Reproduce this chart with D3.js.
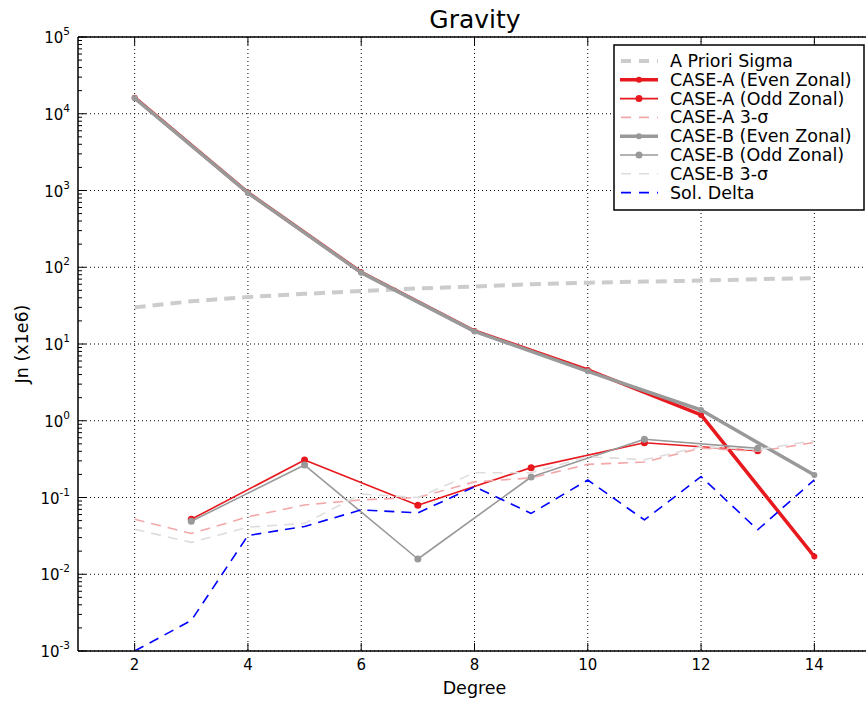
<!DOCTYPE html>
<html><head><meta charset="utf-8">
<script src="https://cdn.jsdelivr.net/npm/d3@7"></script>
<style>body{margin:0;background:#fff;} svg{display:block;font-family:"DejaVu Sans",sans-serif;}</style>
</head><body>
<svg id="c" width="866" height="702"></svg>
<script>
const evenDeg = [2,4,6,8,10,12,14];
const oddDeg = [3,5,7,9,11,13];
const allDeg = [2,3,4,5,6,7,8,9,10,11,12,13,14];
const aprioriSigma = [30,36,41,45,49,53,56,60,63,65,67,70,72];
const caseAEven = [16200,940,86,14.8,4.6,1.19,0.017];
const caseAOdd = [0.052,0.308,0.079,0.245,0.518,0.407];
const caseA3s = [0.052,0.034,0.056,0.080,0.093,0.10,0.16,0.18,0.27,0.29,0.44,0.40,0.52];
const caseBEven = [16000,930,85,14.6,4.4,1.38,0.196];
const caseBOdd = [0.049,0.265,0.0158,0.185,0.573,0.437];
const caseB3s = [0.0385,0.026,0.041,0.046,0.111,0.10,0.21,0.21,0.34,0.31,0.46,0.42,0.55];
const solDelta = [0.001,0.0025,0.032,0.042,0.069,0.063,0.138,0.062,0.169,0.051,0.187,0.038,0.17];
const xTicks = [2,4,6,8,10,12,14];
const yTicksExp = [-3,-2,-1,0,1,2,3,4,5];
const legendLabels = ["A Priori Sigma","CASE-A (Even Zonal)","CASE-A (Odd Zonal)","CASE-A 3-σ","CASE-B (Even Zonal)","CASE-B (Odd Zonal)","CASE-B 3-σ","Sol. Delta"];

const svg = d3.select("#c");
const L=78, R=871, T=37, B=651;
const x = d3.scaleLinear().domain([1,15]).range([L,R]);
const y = d3.scaleLog().domain([1e-3,1e5]).range([B,T]);

// grid
const g = svg.append("g");
xTicks.forEach(t=>g.append("line").attr("x1",x(t)).attr("x2",x(t)).attr("y1",T).attr("y2",B)
  .attr("stroke","#000").attr("stroke-width",1).attr("stroke-dasharray","1,3"));
yTicksExp.forEach(e=>g.append("line").attr("x1",L).attr("x2",R).attr("y1",y(Math.pow(10,e))).attr("y2",y(Math.pow(10,e)))
  .attr("stroke","#000").attr("stroke-width",1).attr("stroke-dasharray","1,3"));

// series
const line = d3.line().x(d=>x(d[0])).y(d=>y(d[1]));
const zip=(xs,ys)=>xs.map((v,i)=>[v,ys[i]]);
const series = [
 {data:zip(allDeg,aprioriSigma), color:"#cccccc", w:4, dash:"11,7", marker:false},
 {data:zip(evenDeg,caseAEven), color:"#e8191e", w:3.5, dash:null, marker:true, r:3},
 {data:zip(oddDeg,caseAOdd), color:"#e8191e", w:1.6, dash:null, marker:true, r:3.5},
 {data:zip(allDeg,caseA3s), color:"#f2a8a8", w:1.6, dash:"10,7", marker:false},
 {data:zip(evenDeg,caseBEven), color:"#999999", w:3.5, dash:null, marker:true, r:3},
 {data:zip(oddDeg,caseBOdd), color:"#999999", w:1.6, dash:null, marker:true, r:3.5},
 {data:zip(allDeg,caseB3s), color:"#dddddd", w:1.6, dash:"10,7", marker:false},
 {data:zip(allDeg,solDelta), color:"#0000ff", w:1.6, dash:"10,7", marker:false}
];
svg.append("clipPath").attr("id","pc").append("rect").attr("x",L).attr("y",T-5).attr("width",R-L).attr("height",B-T+5);
const sg = svg.append("g").attr("clip-path","url(#pc)");
series.forEach(s=>{
  const p = sg.append("path").attr("d",line(s.data)).attr("fill","none").attr("stroke",s.color)
    .attr("stroke-width",s.w).attr("stroke-linejoin","round");
  if(s.dash) p.attr("stroke-dasharray",s.dash);
  if(s.marker) sg.selectAll(null).data(s.data).enter().append("circle")
    .attr("cx",d=>x(d[0])).attr("cy",d=>y(d[1])).attr("r",s.r).attr("fill",s.color);
});

// axes spines
svg.append("line").attr("x1",L).attr("x2",L).attr("y1",T).attr("y2",B).attr("stroke","#000").attr("stroke-width",1.5);
svg.append("line").attr("x1",L).attr("x2",R).attr("y1",T).attr("y2",T).attr("stroke","#000").attr("stroke-width",1.5);
svg.append("line").attr("x1",L).attr("x2",R).attr("y1",B).attr("y2",B).attr("stroke","#000").attr("stroke-width",1.5);
svg.append("line").attr("x1",R).attr("x2",R).attr("y1",T).attr("y2",B).attr("stroke","#000").attr("stroke-width",1.5);

// x ticks
xTicks.forEach(t=>{
  svg.append("line").attr("x1",x(t)).attr("x2",x(t)).attr("y1",B).attr("y2",B-8).attr("stroke","#000");
  svg.append("line").attr("x1",x(t)).attr("x2",x(t)).attr("y1",T).attr("y2",T+8).attr("stroke","#000");
  svg.append("text").attr("x",x(t)).attr("y",B+19).attr("text-anchor","middle").attr("font-size",15).text(t);
});
// y ticks
yTicksExp.forEach(e=>{
  const yy=y(Math.pow(10,e));
  svg.append("line").attr("x1",L).attr("x2",L+8).attr("y1",yy).attr("y2",yy).attr("stroke","#000");
  const t=svg.append("text").attr("x",L-8).attr("y",yy+6).attr("text-anchor","end").attr("font-size",15);
  t.append("tspan").text("10");
  t.append("tspan").attr("dy",-8).attr("font-size",10.5).text(e);
  if(e<5) for(let m=2;m<10;m++){
    const ym=y(m*Math.pow(10,e));
    svg.append("line").attr("x1",L).attr("x2",L+4).attr("y1",ym).attr("y2",ym).attr("stroke","#000");
  }
});

// labels
svg.append("text").attr("x",475).attr("y",28).attr("text-anchor","middle").attr("font-size",25).text("Gravity");
svg.append("text").attr("x",x(8)).attr("y",694).attr("text-anchor","middle").attr("font-size",17.5).text("Degree");
svg.append("text").attr("transform",`translate(28,${(T+B)/2}) rotate(-90)`).attr("text-anchor","middle").attr("font-size",17.5).text("Jn (x1e6)");

// legend
const lg = svg.append("g");
lg.append("rect").attr("x",614).attr("y",45).attr("width",250).attr("height",165).attr("fill","#fff").attr("stroke","#000").attr("stroke-width",1.5);
series.forEach((s,i)=>{
  const yy = 61 + i*18.8;
  const p=lg.append("line").attr("x1",620).attr("x2",658).attr("y1",yy).attr("y2",yy).attr("stroke",s.color).attr("stroke-width",s.w);
  if(s.dash) p.attr("stroke-dasharray","10,8").attr("stroke-dashoffset",-1);
  if(s.marker) lg.append("circle").attr("cx",639).attr("cy",yy).attr("r",s.r).attr("fill",s.color);
  lg.append("text").attr("x",670).attr("y",yy+6).attr("font-size",17.5).text(legendLabels[i]);
});
</script>
</body></html>
